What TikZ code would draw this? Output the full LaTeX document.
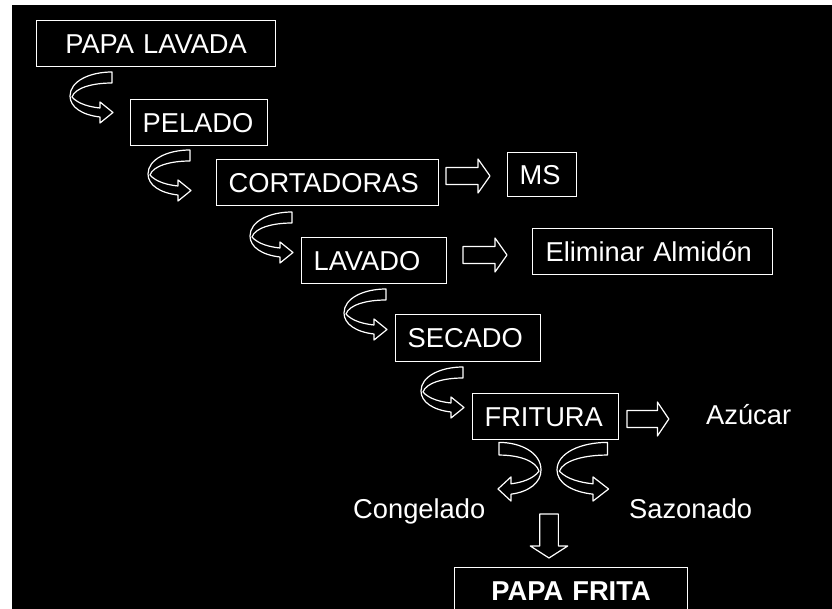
\documentclass[tikz,border=0pt]{standalone}
\usepackage{fontspec}
\setmainfont{Liberation Sans}
\tikzset{
  contorno/.style={draw=white, line width=1.2pt, line join=round},
  caja/.style={draw=white, line width=1.2pt, text=white, anchor=north west,
    inner xsep=12pt, inner ysep=0pt, minimum height=46pt, align=left,
    text height=19.5pt, text depth=0pt, font=\fontsize{27.3}{30}\selectfont},
  rotulo/.style={text=white, anchor=base west, inner sep=0pt,
    font=\fontsize{27.3}{30}\selectfont},
  % flecha hueca recta
  pics/flecha/.style={code={
    \draw[contorno] (0,-8.5) -- (32,-8.5) -- (32,-17) -- (44,0) -- (32,17)
      -- (32,8.5) -- (0,8.5) -- cycle;}},
  % flecha curva (cinta)
  pics/giro/.style={code={
    \draw[contorno] (42,-24) -- (42,-13) .. controls (22,-13) and (5,-8) .. (2,1)
      .. controls (8,8) and (20,11) .. (30,12) -- (30,6) -- (43,16.5) -- (30,27)
      -- (30,21) .. controls (12,19) and (0,11) .. (0,0)
      .. controls (0,-15) and (20,-24) .. (42,-24) -- cycle;}}
}
\begin{document}
\begin{tikzpicture}[x=1pt,y=-1pt]
  \clip (0,0) rectangle (832,609);
  \fill[white] (0,0) rectangle (832,609);
  \fill[black] (12,5) rectangle (832,609);
  %\draw[gray] (0,0) grid[step=50] (832,609);
  \node[caja, align=center, text width=215pt] (lavada) at (36,20) {PAPA LAVADA};
  \node[caja, text width=113pt] (pelado) at (130,99) {PELADO};
  \node[caja, text width=198pt] (cortadoras) at (216,159) {CORTADORAS};
  \node[caja, text width=45pt, minimum height=44pt] (ms) at (507,152) {MS};
  \node[caja, text width=121pt] (lavado) at (301,237) {LAVADO};
  \node[caja, text width=214pt, inner xsep=13pt] (almidon) at (532,228) {Eliminar Almidón};
  \node[caja, text width=121pt, minimum height=47pt] (secado) at (395,314) {SECADO};
  \node[caja, text width=122pt] (fritura) at (472,393) {FRITURA};
  \node[caja, align=center, text width=209pt, font=\fontsize{27.3}{30}\selectfont\bfseries] (frita) at (454,567) {PAPA FRITA};
  \node[rotulo] (azucar) at (706,424) {Azúcar};
  \node[rotulo] (congelado) at (353,518) {Congelado};
  \node[rotulo] (sazonado) at (629,518) {Sazonado};
  % flechas curvas entre etapas
  \pic at (70,96) {giro};
  \pic at (148,174) {giro};
  \pic at (250,236) {giro};
  \pic at (344,313) {giro};
  \pic at (421,391) {giro};
  \pic[xscale=-1, yscale=1.15] at (541,470) {giro};
  \pic[xscale=1.2, yscale=1.15] at (557,470) {giro};
  % flechas rectas
  \pic at (446,176) {flecha};
  \pic at (463,255) {flecha};
  \pic[xscale=0.95] at (627,419) {flecha};
  \pic[rotate=-90, yscale=1.1] at (549,514) {flecha};
\end{tikzpicture}
\end{document}
